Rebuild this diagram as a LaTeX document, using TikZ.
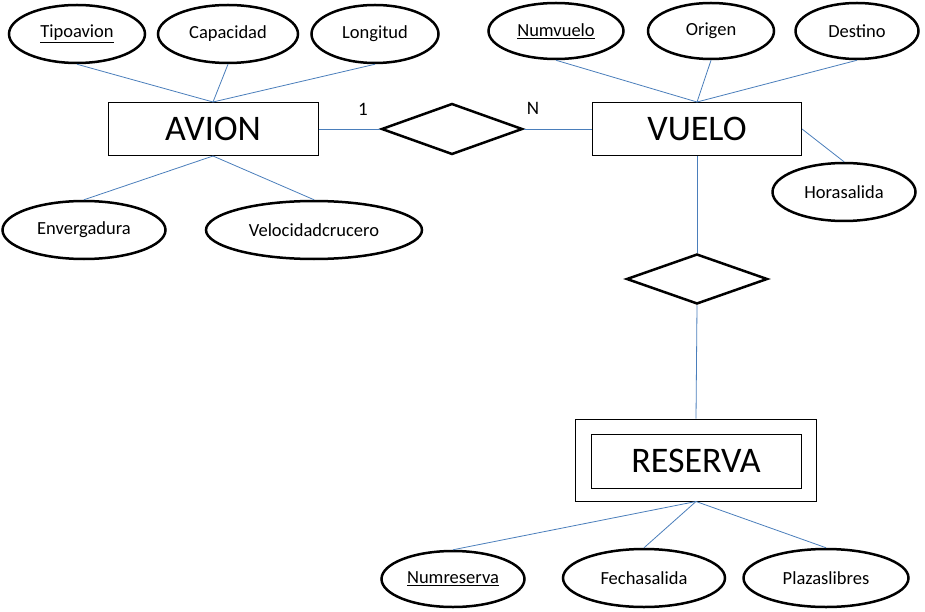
\documentclass[tikz,border=0pt]{standalone}
\usepackage{fontspec}
\setmainfont{Carlito}
\usetikzlibrary{shapes.geometric}
\definecolor{conn}{RGB}{74,126,187}
\begin{document}
\begin{tikzpicture}[x=1pt,y=-1pt,
  attr/.style={ellipse,draw=black,line width=2.5pt,inner sep=0pt,font=\fontsize{18.5}{21}\selectfont},
  ent/.style={rectangle,draw=black,line width=1pt,inner sep=0pt,font=\fontsize{36}{40}\selectfont},
  rel/.style={diamond,draw=black,line width=2.5pt,inner sep=0pt},
  card/.style={inner sep=0pt,font=\fontsize{19}{21}\selectfont},
  link/.style={draw=conn,line width=0.8pt}]
\useasboundingbox (0,0) rectangle (925,612);
% entities
\node[ent,minimum width=210pt,minimum height=53pt] (avion) at (213,129) {AVION};
\node[ent,minimum width=209pt,minimum height=53pt] (vuelo) at (697,129) {VUELO};
\node[ent,minimum width=241pt,minimum height=82pt] (reserva) at (696,460) {};
\node[ent,minimum width=210pt,minimum height=54pt] (reservain) at (696,461) {RESERVA};
% relationships
\node[rel,minimum width=141pt,minimum height=51pt] (r1) at (452,129) {};
\node[rel,minimum width=141pt,minimum height=50pt] (r2) at (697,279) {};
% attributes
\node[attr,minimum width=136pt,minimum height=58pt] (tipo) at (77,34) {\underline{Tipoavion}};
\node[attr,minimum width=140pt,minimum height=58pt] (cap) at (228,34) {Capacidad};
\node[attr,minimum width=127pt,minimum height=58pt] (lon) at (375,34) {Longitud};
\node[attr,minimum width=163pt,minimum height=58pt] (env) at (84,230) {Envergadura};
\node[attr,minimum width=216pt,minimum height=58pt] (vel) at (314,230) {Velocidadcrucero};
\node[attr,minimum width=135pt,minimum height=56pt] (numv) at (556,31) {\underline{Numvuelo}};
\node[attr,minimum width=126pt,minimum height=56pt] (ori) at (711,31) {Origen};
\node[attr,minimum width=123pt,minimum height=56pt] (des) at (857,31) {Destino};
\node[attr,minimum width=143pt,minimum height=58pt] (hora) at (844,192) {Horasalida};
\node[attr,minimum width=143pt,minimum height=56pt] (numr) at (453,579) {\underline{Numreserva}};
\node[attr,minimum width=162pt,minimum height=58pt] (fecha) at (644,578) {Fechasalida};
\node[attr,minimum width=165pt,minimum height=58pt] (plaz) at (826,578) {Plazaslibres};
% cardinalities
\node[card] (c1) at (363,109) {1};
\node[card] (cn) at (533,108) {N};
% connectors
\draw[link] (avion.east) -- (r1.west);
\draw[link] (r1.east) -- (vuelo.west);
\draw[link] (vuelo.south) -- (r2.north);
\draw[link] (r2.south) -- (reserva.north);
\draw[link] (tipo.south) -- (avion.north);
\draw[link] (cap.south) -- (avion.north);
\draw[link] (lon.south) -- (avion.north);
\draw[link] (env.north) -- (avion.south);
\draw[link] (vel.north) -- (avion.south);
\draw[link] (numv.south) -- (vuelo.north);
\draw[link] (ori.south) -- (vuelo.north);
\draw[link] (des.south) -- (vuelo.north);
\draw[link] (vuelo.east) -- (hora.north);
\draw[link] (reserva.south) -- (numr.north);
\draw[link] (reserva.south) -- (fecha.north);
\draw[link] (reserva.south) -- (plaz.north);
\end{tikzpicture}
\end{document}
